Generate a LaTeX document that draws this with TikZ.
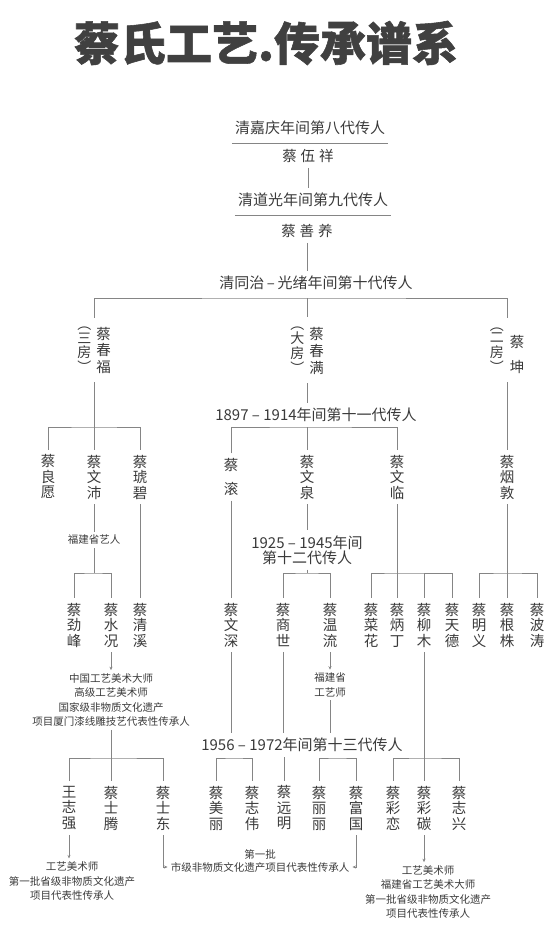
\documentclass[tikz,border=0pt]{standalone}
\usepackage{fontspec}
\usetikzlibrary{arrows.meta,positioning}
\setmainfont{Noto Sans CJK SC}
\newfontfamily\titlefont[BoldFeatures={FakeBold=1.2}]{Noto Sans CJK SC}
\definecolor{ink}{HTML}{3A3A3A}
\definecolor{head}{HTML}{404040}
\definecolor{rule}{HTML}{858585}
\newcommand{\fang}[1]{{\fontsize{14}{10}\selectfont\begin{tabular}[b]{@{}c@{}}︵\\#1\\︶\end{tabular}}}
\newcommand{\ming}[1]{\begin{tabular}[b]{@{}c@{}}#1\end{tabular}}

\begin{document}
\begin{tikzpicture}[x=1pt, y=-1pt, every node/.style={text=ink},
      nm/.style={align=center, font=\fontsize{14.5}{15.5}\selectfont, inner xsep=2pt, inner ysep=5pt},
      gen/.style={align=center, font=\fontsize{15}{15}\selectfont, inner xsep=3pt, inner ysep=5pt},
      note/.style={align=center, font=\fontsize{10.5}{14.5}\selectfont, inner sep=3pt},
      ln/.style={draw=rule, line width=0.9pt},
      arr/.style={ln, -{Stealth[length=3.5pt, width=3pt]}}]
    \useasboundingbox (0,0) rectangle (555,939);
    \node[font=\fontsize{46}{46}\selectfont\titlefont\bfseries, text=head] (title) at (266,43) {蔡氏工艺.传承谱系};
    \node[gen] (h8) at (310,128) {清嘉庆年间第八代传人};
    \node[nm] (n8) at (308,156) {蔡\hspace{4pt}伍\hspace{4pt}祥};
    \node[gen] (h9) at (313,200) {清道光年间第九代传人};
    \node[nm] (n9) at (307,231) {蔡\hspace{4pt}善\hspace{4pt}养};
    \node[gen] (h10) at (316,283) {清同治\,–\,光绪年间第十代传人};
    \draw[ln] ([yshift=-3pt]h8.south west) -- ([yshift=-3pt]h8.south east);
    \draw[ln] ([yshift=-3pt]h9.south west) -- ([yshift=-3pt]h9.south east);
    \draw[ln] (n8.south) -- (n8.south |- h9.north); \draw[ln] (n9.south) -- (n9.south |- h10.north);
    \coordinate (j10) at (307,298);
    \node[nm] (chunfu) at (94,350) {\fang{三\\房}\hspace{5pt}\ming{蔡\\春\\福}};
    \node[nm] (chunman) at (307,350) {\fang{大\\房}\hspace{5pt}\ming{蔡\\春\\满}};
    \node[nm] (kun) at (507,350) {\fang{二\\房}\hspace{6pt}\ming{蔡\\[8pt]坤}};
    \draw[ln] (chunfu.north) |- (j10) -| (kun.north); \draw[ln] (j10) -- (chunman.north);
    \node[gen] (h11) at (316,415) {1897 – 1914年间第十一代传人};
    \coordinate (j11a) at (94,427); \coordinate (j11b) at (307,427);
    \node[nm] (liangyuan) at (48,477) {蔡\\良\\愿};
    \node[nm] (wenpei) at (94,477) {蔡\\文\\沛};
    \node[nm] (hubi) at (140,477) {蔡\\琥\\碧};
    \node[nm] (gun) at (231,477) {蔡\\[8pt]滚};
    \node[nm] (wenquan) at (307,477) {蔡\\文\\泉};
    \node[nm] (wenlin) at (397,477) {蔡\\文\\临};
    \node[nm] (yandun) at (507,477) {蔡\\烟\\敦};
    \draw[ln] (chunman.south) -- (chunman.south |- h11.north); \draw[ln] (chunfu.south) -- (wenpei.north);
    \draw[ln] (liangyuan.north) |- (j11a) -| (hubi.north);
    \draw[ln] (gun.north) |- (j11b) -| (wenlin.north); \draw[ln] (j11b) -- (wenquan.north);
    \draw[ln] (kun.south) -- (yandun.north);
    \node[note] (fj1) at (94,540) {福建省艺人};
    \node[gen] (h12) at (307,550) {1925 – 1945年间\\第十二代传人};
    \coordinate (j12a) at (94,573); \coordinate (j12b) at (307,573); \coordinate (j12c) at (397,573); \coordinate (j12d) at (507,573);
    \node[nm] (jinfeng) at (74,625) {蔡\\劲\\峰};
    \node[nm] (shuikuang) at (111,625) {蔡\\水\\况};
    \node[nm] (qingxi) at (140,625) {蔡\\清\\溪};
    \node[nm] (wenshen) at (231,625) {蔡\\文\\深};
    \node[nm] (shangshi) at (283,625) {蔡\\商\\世};
    \node[nm] (wenliu) at (330,625) {蔡\\温\\流};
    \node[nm] (caihua) at (371,625) {蔡\\菜\\花};
    \node[nm] (bingding) at (397,625) {蔡\\炳\\丁};
    \node[nm] (liumu) at (424,625) {蔡\\柳\\木};
    \node[nm] (tiande) at (452,625) {蔡\\天\\德};
    \node[nm] (mingyi) at (479,625) {蔡\\明\\义};
    \node[nm] (genzhu) at (507,625) {蔡\\根\\株};
    \node[nm] (botao) at (537,625) {蔡\\波\\涛};
    \draw[ln] (wenpei.south) -- (fj1.north); \draw[ln] (fj1.south) -- (j12a);
    \draw[ln] (jinfeng.north) |- (j12a) -| (shuikuang.north);
    \draw[ln] (hubi.south) -- (qingxi.north); \draw[ln] (gun.south) -- (wenshen.north);
    \draw[ln] (wenquan.south) -- (h12.north); \draw[ln] (h12.south) -- (j12b);
    \draw[ln] (shangshi.north) |- (j12b) -| (wenliu.north);
    \draw[ln] (wenlin.south) -- (bingding.north); \draw[ln] (caihua.north) |- (j12c) -| (tiande.north);
    \draw[ln] (liumu.north) -- (liumu.north |- j12c);
    \draw[ln] (yandun.south) -- (genzhu.north); \draw[ln] (mingyi.north) |- (j12d) -| (botao.north);
    \node[note] (ds1) at (111,700) {中国工艺美术大师\\高级工艺美术师\\国家级非物质文化遗产\\项目厦门漆线雕技艺代表性传承人};
    \node[note] (fj2) at (330,685) {福建省\\工艺师};
    \node[gen] (h13) at (302,745) {1956 – 1972年间第十三代传人};
    \coordinate (j13a) at (111,758); \coordinate (j13b) at (234,758); \coordinate (j13d) at (337,758); \coordinate (j13e) at (424,758);
    \node[nm] (wangzq) at (69,808) {王\\志\\强};
    \node[nm] (shiteng) at (111,808) {蔡\\士\\腾};
    \node[nm] (shidong) at (163,808) {蔡\\士\\东};
    \node[nm] (meili) at (216,808) {蔡\\美\\丽};
    \node[nm] (zhiwei) at (252,808) {蔡\\志\\伟};
    \node[nm] (yuanming) at (284,808) {蔡\\远\\明};
    \node[nm] (lili) at (319,808) {蔡\\丽\\丽};
    \node[nm] (fuguo) at (356,808) {蔡\\富\\国};
    \node[nm] (cailian) at (393,808) {蔡\\彩\\恋};
    \node[nm] (caitan) at (424,808) {蔡\\彩\\碳};
    \node[nm] (zhixing) at (459,808) {蔡\\志\\兴};
    \draw[arr] (shuikuang.south) -- (ds1.north); \draw[ln] (ds1.south) -- (shiteng.north);
    \draw[ln] (wangzq.north) |- (j13a) -| (shidong.north);
    \draw[arr] (wenliu.south) -- (fj2.north); \draw[ln] (fj2.south) -- (fj2.south |- h13.north);
    \draw[ln] (wenshen.south) -- (wenshen.south |- h13.north); \draw[ln] (shangshi.south) -- (shangshi.south |- h13.north);
    \draw[ln] (meili.north) |- (j13b) -| (zhiwei.north); \draw[ln] (yuanming.north) -- (yuanming.north |- h13.south);
    \draw[ln] (lili.north) |- (j13d) -| (fuguo.north);
    \draw[ln] (liumu.south) -- (caitan.north); \draw[ln] (cailian.north) |- (j13e) -| (zhixing.north);
    \node[note] (ds2) at (72,881) {工艺美术师\\第一批省级非物质文化遗产\\项目代表性传承人};
    \node[note] (sj) at (260,867) {市级非物质文化遗产项目代表性传承人};
    \node[note, above=-4pt of sj] (sjp) {第一批};
    \node[note] (ds3) at (428,892) {工艺美术师\\福建省工艺美术大师\\第一批省级非物质文化遗产\\项目代表性传承人};
    \draw[arr] (wangzq.south) -- (wangzq.south |- ds2.north);
    \draw[arr] (shidong.south) |- (sj.west); \draw[arr] (fuguo.south) |- (sj.east);
    \draw[arr] (caitan.south) -- (caitan.south |- ds3.north);
  \end{tikzpicture}
\end{document}
